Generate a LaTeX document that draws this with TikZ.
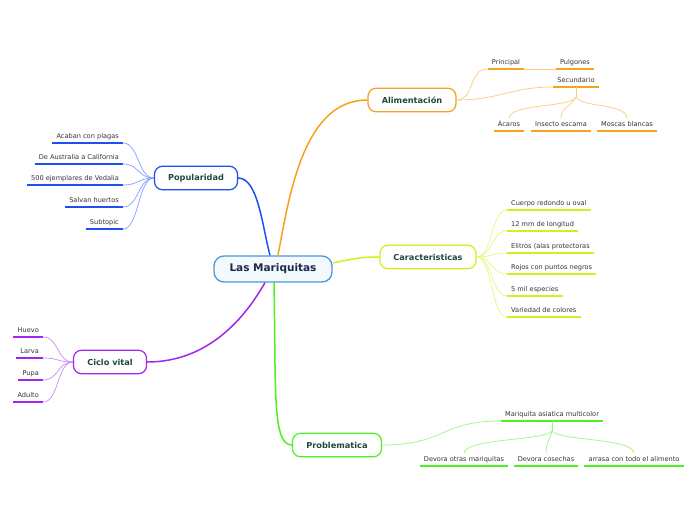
\documentclass[tikz,border=0pt]{standalone}
\usepackage{fontspec}
\setmainfont{DejaVu Sans}
\definecolor{corange}{HTML}{F7A11E}
\definecolor{lorange}{HTML}{FCCB80}
\definecolor{cblue}{HTML}{1F4FF0}
\definecolor{lblue}{HTML}{7FA0FF}
\definecolor{cyel}{HTML}{D2F01C}
\definecolor{lyel}{HTML}{E6F77E}
\definecolor{cpurp}{HTML}{A225F0}
\definecolor{lpurp}{HTML}{CC88F8}
\definecolor{cgreen}{HTML}{4FF020}
\definecolor{lgreen}{HTML}{9CF77E}
\definecolor{mainbd}{HTML}{4A98D8}
\definecolor{mainfill}{HTML}{F4F9FD}
\definecolor{maintext}{HTML}{1B2A4A}
\definecolor{brtext}{HTML}{1E4A3C}
\definecolor{leaftext}{HTML}{333333}
\newcommand\mkleaf[5]{%
  \node[leaf, anchor=#2] (#1) at #3 {#5};
  \draw[line width=2pt, #4] (#1.south west) -- (#1.south east);}
\begin{document}
\begin{tikzpicture}[x=1pt,y=-1pt,
  mainbox/.style={draw=mainbd, line width=1.3pt, fill=mainfill, rounded corners=10pt,
    minimum width=118pt, minimum height=26pt, font=\fontsize{10.5}{12}\selectfont\bfseries, text=maintext},
  branch/.style={draw=#1, line width=1.2pt, fill=white, rounded corners=8pt,
    minimum height=23.5pt, font=\fontsize{8.2}{10}\selectfont\bfseries, text=brtext},
  leaf/.style={inner xsep=4pt, inner ysep=2.8pt, text height=5pt, text depth=1.5pt,
    font=\fontsize{6.6}{8}\selectfont, text=leaftext},
  mainline/.style={line width=1.5pt, #1},
  subline/.style={line width=0.7pt, #1}]
\useasboundingbox (0,0) rectangle (696,520);
\fill[white] (0,0) rectangle (696,520);

% central and branch nodes
\node[mainbox] (main) at (273,269) {Las Mariquitas};
\node[branch=corange, minimum width=88pt] (ali) at (412,100) {Alimentación};
\node[branch=cblue, minimum width=83pt] (pop) at (196,178) {Popularidad};
\node[branch=cyel, minimum width=96pt] (car) at (428,257) {Caracteristicas};
\node[branch=cpurp, minimum width=73pt] (cic) at (110,362) {Ciclo vital};
\node[branch=cgreen, minimum width=89pt] (pro) at (337,445) {Problematica};

% main connectors
\draw[mainline=corange] ([xshift=5pt]main.north) .. controls (290,190) and (305,100) .. (ali.west);
\draw[mainline=cblue] ([xshift=-3pt]main.north) .. controls (262,225) and (258,178) .. (pop.east);
\draw[mainline=cyel] ([yshift=6pt]main.east) .. controls (352,259) and (360,257) .. (car.west);
\draw[mainline=cpurp] ([xshift=-8pt]main.south) .. controls (235,335) and (195,362) .. (cic.east);
\draw[mainline=cgreen] ([xshift=1pt]main.south) .. controls (276,390) and (272,445) .. (pro.west);

% Alimentacion leaves
\mkleaf{a1}{south}{(506,69)}{corange}{Principal}
\mkleaf{a2}{south}{(575,69)}{corange}{Pulgones}
\mkleaf{a3}{south}{(576,87)}{corange}{Secundario}
\mkleaf{a4}{south}{(509,131)}{corange}{Ácaros}
\mkleaf{a5}{south}{(561,131)}{corange}{Insecto escama}
\mkleaf{a6}{south}{(627,131)}{corange}{Moscas blancas}
\draw[subline=lorange] (ali.east) .. controls (475,100) and (468,69) .. (a1.south west);
\draw[subline=lorange] (a1.south east) -- (a2.south west);
\draw[subline=lorange] (ali.east) .. controls (500,100) and (510,87) .. (a3.south west);
\coordinate (aj) at (576,97);
\draw[subline=lorange] (a3.south) -- (aj);
\draw[subline=lorange] (aj) .. controls (570,108) and (510,103) .. (a4.north);
\draw[subline=lorange] (aj) .. controls (572,106) and (560,108) .. (a5.north);
\draw[subline=lorange] (aj) .. controls (582,108) and (627,103) .. (a6.north);

% Popularidad leaves
\mkleaf{p1}{south east}{(123,143)}{cblue}{Acaban con plagas}
\mkleaf{p2}{south east}{(123,164)}{cblue}{De Australia a California}
\mkleaf{p3}{south east}{(123,185)}{cblue}{500 ejemplares de Vedalia}
\mkleaf{p4}{south east}{(123,207)}{cblue}{Salvan huertos}
\mkleaf{p5}{south east}{(123,229)}{cblue}{Subtopic}
\foreach \n in {p1,p2,p3,p4,p5}
  \draw[subline=lblue] (pop.west) .. controls +(-16,0) and +(16,0) .. (\n.south east);

% Caracteristicas leaves
\mkleaf{c1}{south west}{(507,210)}{cyel}{Cuerpo redondo u oval}
\mkleaf{c2}{south west}{(507,231)}{cyel}{12 mm de longitud}
\mkleaf{c3}{south west}{(507,253)}{cyel}{Elitros (alas protectoras}
\mkleaf{c4}{south west}{(507,274)}{cyel}{Rojos con puntos negros}
\mkleaf{c5}{south west}{(507,296)}{cyel}{5 mil especies}
\mkleaf{c6}{south west}{(507,317)}{cyel}{Variedad de colores}
\foreach \n in {c1,c2,c3,c4,c5,c6}
  \draw[subline=lyel] (car.east) .. controls +(16,0) and +(-16,0) .. (\n.south west);

% Ciclo vital leaves
\mkleaf{v1}{south east}{(43,337)}{cpurp}{Huevo}
\mkleaf{v2}{south east}{(43,358)}{cpurp}{Larva}
\mkleaf{v3}{south east}{(43,380)}{cpurp}{Pupa}
\mkleaf{v4}{south east}{(43,402)}{cpurp}{Adulto}
\foreach \n in {v1,v2,v3,v4}
  \draw[subline=lpurp] (cic.west) .. controls +(-16,0) and +(16,0) .. (\n.south east);

% Problematica leaves
\mkleaf{m0}{south}{(552,421)}{cgreen}{Mariquita asiatica multicolor}
\mkleaf{m1}{south}{(464,466)}{cgreen}{Devora otras mariquitas}
\mkleaf{m2}{south}{(546,466)}{cgreen}{Devora cosechas}
\mkleaf{m3}{south}{(634,466)}{cgreen}{arrasa con todo el alimento}
\draw[subline=lgreen] (pro.east) .. controls (445,445) and (440,421) .. (m0.south west);
\coordinate (mj) at (552,431);
\draw[subline=lgreen] (m0.south) -- (mj);
\draw[subline=lgreen] (mj) .. controls (545,441) and (464,438) .. (m1.north);
\draw[subline=lgreen] (mj) .. controls (550,440) and (546,442) .. (m2.north);
\draw[subline=lgreen] (mj) .. controls (560,441) and (634,438) .. (m3.north);
\end{tikzpicture}
\end{document}
